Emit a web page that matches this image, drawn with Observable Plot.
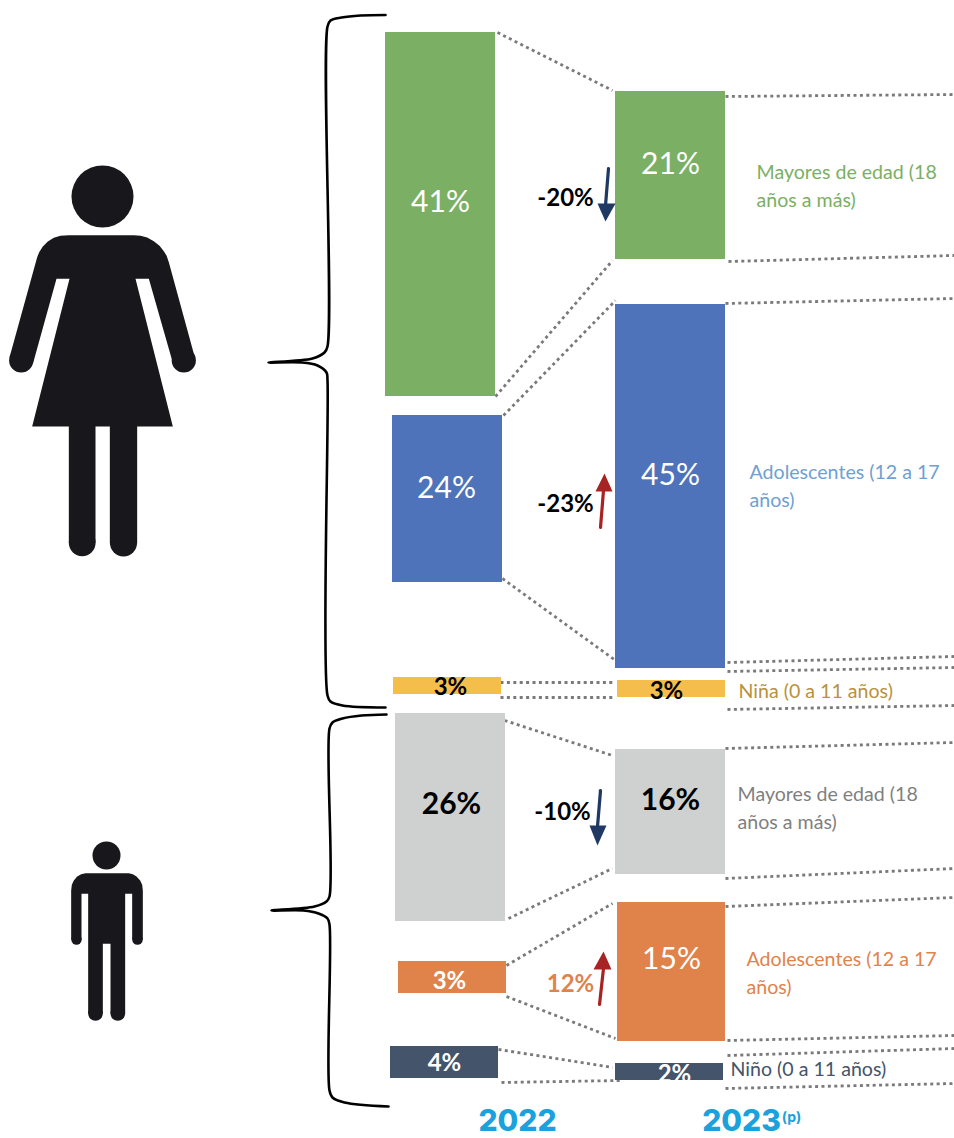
<!DOCTYPE html>
<html lang="es">
<head>
<meta charset="utf-8">
<title>Distribución por sexo y grupo de edad, 2022 y 2023</title>
<script src="https://cdn.jsdelivr.net/npm/d3@7"></script>
<script src="https://cdn.jsdelivr.net/npm/@observablehq/plot@0.6"></script>
<style>
html,body{margin:0;padding:0;background:#fff}
svg{display:block}
</style>
</head>
<body>
<div id="chart"></div>
<script>
// Bars
const barColors = ["#7BAF63","#4E73BA","#F5BE4C","#CFD1D0","#DF834B","#44546A","#7BAF63","#4E73BA","#F5BE4C","#CFD1D0","#DF834B","#44546A"];
const barLeft   = [385,392,393,395,398,390,615,615,617,615,617,615];
const barRight  = [495,502,501,505,506,498,725,725,725,725,725,723];
const barTop    = [32,415,677,713,961,1046,91,304,680,749,902,1063];
const barBottom = [396,582,694,921,993,1078,259,668,697,874,1041,1080];
const bars = barColors.map((c,i)=>({c,x1:barLeft[i],x2:barRight[i],y1:barTop[i],y2:barBottom[i]}));

// Bar value labels
const regularValues = [["41%",440,202,"#fff"],["24%",446,488,"#fff"],["21%",670,164,"#fff"],["45%",670,475,"#fff"],["15%",671,959,"#fff"]];
const boldLargeValues = [["26%",451,804,"#000"],["16%",670,800,"#000"]];
const boldSmallValues = [["3%",450,687,"#000"],["3%",666,691,"#000"],["3%",449,981,"#fff"],["4%",444,1063,"#fff"],["2%",674,1074,"#fff"]];

// Change labels
const changeLabels = [["-20%",565,198,"#000"],["-23%",565,504,"#000"],["-10%",562,812,"#000"],["12%",570,984,"#DF834B"]];

// Category labels
const categoryLabels = [
  ["Mayores de edad (18",756,172,"#7BAF63"],["años a más)",756,200,"#7BAF63"],
  ["Adolescentes (12 a 17",749,472,"#6FA0D2"],["años)",749,500,"#6FA0D2"],
  ["Niña (0 a 11 años)",738,691,"#B8923D"],
  ["Mayores de edad (18",737,794,"#7F7F7F"],["años a más)",737,822,"#7F7F7F"],
  ["Adolescentes (12 a 17",746,959,"#DF834B"],["años)",746,987,"#DF834B"],
  ["Niño (0 a 11 años)",730,1069,"#44546A"]
];

// Year labels
const yearLabels = [["2022",517,1121],["2023",741,1121]];
const yearNotes = [["(p)",791,1117]];

// Dotted connectors: x1,y1,x2,y2
const connectors = [
  [497,32,612,90],[495,396,612,260],[503,415,615,300],[502,578,615,660],
  [500,682,615,682],[500,697,612,697],[498,718,612,755],[508,918,612,868],
  [506,965,612,903],[506,996,615,1038],[498,1049,612,1067],[501,1082,620,1080],
  [725,96,954,94],[728,261,954,255],[725,303,954,298],[727,662,954,656],
  [727,671,954,667],[727,709,954,705],[725,748,954,742],[725,878,954,868],
  [725,906,954,897],[727,1040,954,1035],[727,1055,954,1048],[725,1088,954,1083]
];

// Change arrows
const arrowColors = ["#1F3864","#A82424","#1F3864","#A82424"];
const arrowShafts = [[[608,168],[605,205]],[[600,527],[603,490]],[[600,790],[597,826]],[[599,1004],[603,968]]];
const arrowHeads = [
  [[597,203],[615,203],[605,221]],
  [[595,491],[612,491],[604,473]],
  [[589,825],[606,825],[597,845]],
  [[593,969],[611,969],[603,951]]
];

// Braces
const braces = [
  [[385,14.5],[360,15],[341,17],[330,20],[327,26],[327,346],[324,352],[312,358],[268,362],[301,362],[317,365],[326,372],[327,380],[327,695],[330,701],[342,705],[385,707]],
  [[386,714],[361,715],[342,718],[332,722],[329,728],[329,896],[326,901],[314,906],[271,910],[303,910],[318,913],[327,918],[329,924],[329,1090],[332,1097],[344,1102],[388,1106]]
];

// Pictograms
const woman = [[205,284],[180,286],[160,292],[142,303],[127,318],[116,335],[110,350],[30,640],[27,650],[97,670],[100,660],[168,415],[207,415],[95,858],[205,858],[205,1207],[285,1207],[285,858],[328,858],[328,1207],[410,1207],[410,858],[517,858],[405,415],[445,415],[515,660],[515,670],[585,650],[580,640],[505,365],[498,345],[490,332],[477,316],[460,302],[440,291],[420,286],[400,284]].map(([x,y])=>[x/3,140+y/3]);
const man = [[105,128],[92,131],[80,138],[70,150],[64,163],[62,180],[62,327],[93,327],[93,190],[113,190],[113,550],[157,550],[157,340],[180,340],[180,550],[224,550],[224,190],[245,190],[245,327],[277,327],[277,180],[275,163],[269,150],[258,138],[247,131],[235,128]].map(([x,y])=>[50+x/3,830+y/3]);
const heads = [[102,196,31],[106,855,14]];
const womanLimbEnds = [[20.7,360,12.1],[183.3,360,12.1],[81.7,542.3,13.4],[123,542.3,13.6]];
const manLimbEnds = [[76,939,5.2],[137,939,5.3],[95,1013,7.3],[117.3,1013,7.3]];

const figureInk = "#18171B";
const textMark = (rows, fontSize, fontWeight, fontFamily="Lato") => Plot.text(rows,{
  text:d=>d[0],x:d=>d[1],y:d=>d[2],fill:d=>d[3],fontSize,fontWeight,fontFamily,textAnchor:"middle",lineAnchor:"middle"
});

const plot = Plot.plot({
  width:954,height:1138,
  marginTop:0,marginRight:0,marginBottom:0,marginLeft:0,
  x:{domain:[0,954],range:[0,954],axis:null},
  y:{domain:[0,1138],range:[0,1138],axis:null},
  color:{type:"identity"},
  style:{background:"#fff"},
  marks:[
    Plot.link(connectors,{x1:d=>d[0],y1:d=>d[1],x2:d=>d[2],y2:d=>d[3],stroke:"#7A7A7A",strokeWidth:2.8,strokeDasharray:"3 3.4"}),
    Plot.rect(bars,{x1:"x1",x2:"x2",y1:"y1",y2:"y2",fill:"c"}),
    ...braces.map(b=>Plot.line(b,{x:d=>d[0],y:d=>d[1],stroke:"#000",strokeWidth:2.6,curve:"catmull-rom"})),
    Plot.line(woman,{x:d=>d[0],y:d=>d[1],fill:figureInk,stroke:"none"}),
    Plot.line(man,{x:d=>d[0],y:d=>d[1],fill:figureInk,stroke:"none"}),
    ...[...heads,...womanLimbEnds,...manLimbEnds].map(h=>Plot.dot([h],{x:d=>d[0],y:d=>d[1],r:h[2],fill:figureInk,stroke:"none"})),
    ...arrowShafts.map((s,i)=>Plot.line(s,{x:d=>d[0],y:d=>d[1],stroke:arrowColors[i],strokeWidth:3.2})),
    ...arrowHeads.map((s,i)=>Plot.line(s,{x:d=>d[0],y:d=>d[1],fill:arrowColors[i],stroke:"none"})),
    textMark(regularValues,30,400),
    textMark(boldLargeValues,30,700),
    textMark(boldSmallValues,24,700),
    textMark(changeLabels,24,700),
    Plot.text(categoryLabels,{text:d=>d[0],x:d=>d[1],y:d=>d[2],fill:d=>d[3],fontSize:19.6,fontFamily:"Lato",textAnchor:"start",lineAnchor:"middle"}),
    Plot.text(yearLabels,{text:d=>d[0],x:d=>d[1],y:d=>d[2],fill:"#1BA1DC",fontSize:30,fontWeight:800,fontFamily:"Inter",textAnchor:"middle",lineAnchor:"middle"}),
    Plot.text(yearNotes,{text:d=>d[0],x:d=>d[1],y:d=>d[2],fill:"#1BA1DC",fontSize:14,fontWeight:700,fontFamily:"Inter",textAnchor:"middle",lineAnchor:"middle"})
  ]
});
document.getElementById("chart").append(plot);
</script>
</body>
</html>
